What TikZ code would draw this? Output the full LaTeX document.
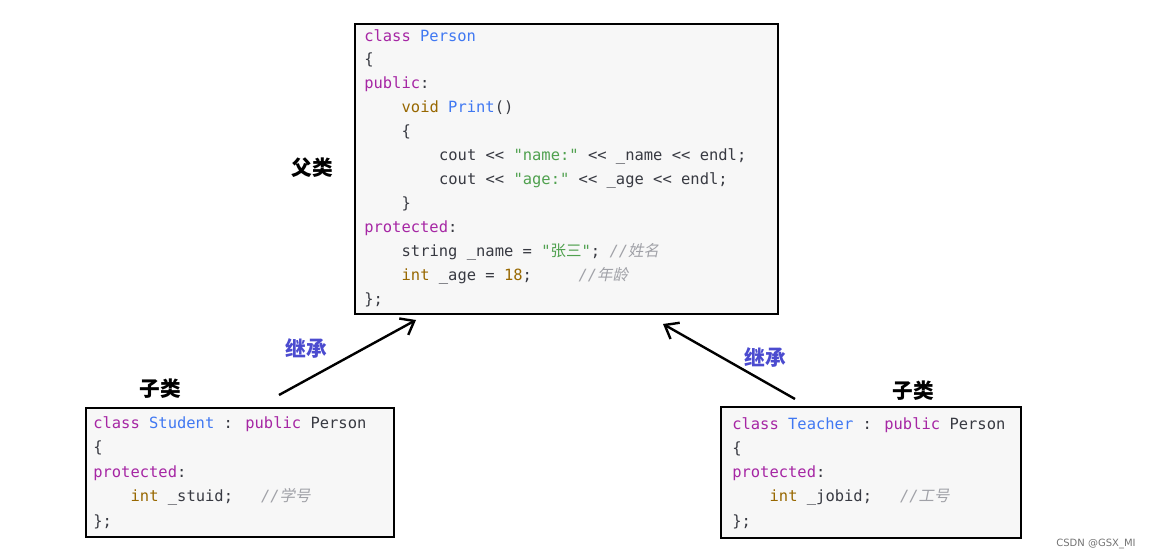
\documentclass[tikz,border=0pt]{standalone}
\usepackage{fontspec}
\setmainfont{DejaVu Sans}
\newfontfamily\code{DejaVu Sans Mono}
\newfontfamily\cjk{Noto Sans CJK SC}
\newfontfamily\cjki{Noto Sans CJK SC}[FakeSlant=0.2]
\usetikzlibrary{arrows.meta}
\definecolor{kw}{HTML}{A626A4}
\definecolor{cn}{HTML}{4078F2}
\definecolor{ty}{HTML}{986801}
\definecolor{st}{HTML}{50A14F}
\definecolor{cm}{HTML}{A0A1A7}
\definecolor{tx}{HTML}{383A42}
\definecolor{lab}{HTML}{4B4BCF}
\newcommand{\K}[1]{\textcolor{kw}{#1}}
\newcommand{\C}[1]{\textcolor{cn}{#1}}
\newcommand{\T}[1]{\textcolor{ty}{#1}}
\newcommand{\Str}[1]{\textcolor{st}{#1}}
\newcommand{\Cm}[1]{\textcolor{cm}{\itshape #1}}
\begin{document}
\begin{tikzpicture}[x=0.75pt,y=-0.75pt,
  box/.style={draw=black,line width=2.2pt,fill=black!3},
  ln/.style={anchor=west,inner sep=0pt,text=tx,yshift=-1.5pt,font=\code\fontsize{11.6}{14}\selectfont},
  lbl/.style={font=\cjk\bfseries\fontsize{15.5}{18}\selectfont},
  inh/.style={lbl,text=lab},
  arr/.style={line width=1.8pt,-{Straight Barb[length=9pt,width=14pt,line width=1.8pt]}}]
\useasboundingbox (0,0) rectangle (1153,559);
\draw[box] (355,24) rectangle (778,314);
\draw[box] (86,408) rectangle (394,537);
\draw[box] (721,407) rectangle (1021,538);
% Person
\def\px{364}\def\ch{9.35}
\node[ln] (p1) at (\px,34) {\K{class} \C{Person}};
\node[ln] (p2) at (\px,58) {\{};
\node[ln] (p3) at (\px,82) {\K{public}:};
\node[ln] (p4) at (\px+4*\ch,106) {\T{void} \C{Print}()};
\node[ln] (p5) at (\px+4*\ch,130) {\{};
\node[ln] (p6) at (\px+8*\ch,154) {cout << \Str{"name:"} << \_name << endl;};
\node[ln] (p7) at (\px+8*\ch,178) {cout << \Str{"age:"} << \_age << endl;};
\node[ln] (p8) at (\px+4*\ch,202) {\}};
\node[ln] (p9) at (\px,226) {\K{protected}:};
\node[ln] (p10) at (\px+4*\ch,250) {string \_name = \Str{"{\cjk 张三}"}; \Cm{//{\cjki 姓名}}};
\node[ln] (p11) at (\px+4*\ch,274) {\T{int} \_age = \T{18};\hspace{5\fontcharwd\font`0}\Cm{//{\cjki 年龄}}};
\node[ln] (p12) at (\px,298) {\};};
% Student
\def\sx{93}
\node[ln] (s1) at (\sx,422) {\K{class} \C{Student} : \K{public} Person};
\node[ln] (s2) at (\sx,446) {\{};
\node[ln] (s3) at (\sx,471) {\K{protected}:};
\node[ln] (s4) at (\sx+4*\ch,495) {\T{int} \_stuid;\hspace{3\fontcharwd\font`0}\Cm{//{\cjki 学号}}};
\node[ln] (s5) at (\sx,520) {\};};
% Teacher
\def\tx{732}
\node[ln] (t1) at (\tx,423) {\K{class} \C{Teacher} : \K{public} Person};
\node[ln] (t2) at (\tx,447) {\{};
\node[ln] (t3) at (\tx,471) {\K{protected}:};
\node[ln] (t4) at (\tx+4*\ch,495) {\T{int} \_jobid;\hspace{3\fontcharwd\font`0}\Cm{//{\cjki 工号}}};
\node[ln] (t5) at (\tx,520) {\};};
% labels
\node[lbl] (fu) at (312,168) {父类};
\node[lbl] (z1) at (160,389) {子类};
\node[lbl] (z2) at (913,391) {子类};
\node[inh] (j1) at (306,348) {继承};
\node[inh] (j2) at (765,357) {继承};
\node[text=black!55,font=\fontsize{7.5}{9}\selectfont] (wm) at (1096,544) {CSDN @GSX\_MI};
% arrows
\coordinate (a1s) at (279,395); \coordinate (a1e) at (416,320);
\coordinate (a2s) at (795,399); \coordinate (a2e) at (663,324);
\draw[arr] (a1s) -- (a1e);
\draw[arr] (a2s) -- (a2e);
\end{tikzpicture}
\end{document}
